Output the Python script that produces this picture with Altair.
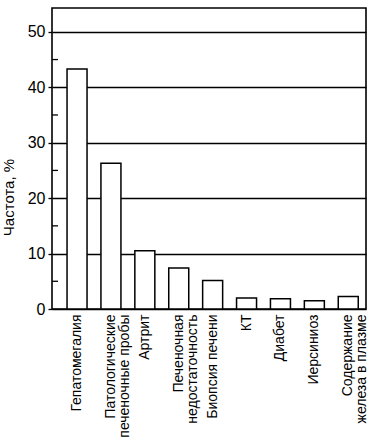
import altair as alt
import pandas as pd

categories = [
    "Гепатомегалия",
    "Патологические|печеночные пробы",
    "Артрит",
    "Печеночная|недостаточность",
    "Биопсия печени",
    "КТ",
    "Диабет",
    "Иерсиниоз",
    "Содержание|железа в плазме",
]
values = [43.3, 26.3, 10.5, 7.4, 5.15, 2.0, 1.85, 1.5, 2.25]
major_ticks = [0, 10, 20, 30, 40, 50]
minor_ticks = [5, 15, 25, 35, 45]

df = pd.DataFrame({"cat": categories, "val": values})
minor_df = pd.DataFrame({"v": minor_ticks})

FONT = "Liberation Sans"
ydom = [0, 54.3]

bars = alt.Chart(df).mark_bar(
    fill="white", stroke="black", strokeWidth=1.5
).encode(
    x=alt.X(
        "cat:N",
        sort=None,
        title=None,
        scale=alt.Scale(paddingInner=0.41, paddingOuter=0.336, align=0.66),
        axis=alt.Axis(
            labelAngle=270,
            labelExpr="split(datum.label, '|')",
            labelFont=FONT,
            labelFontSize=14,
            labelLineHeight=14,
            labelColor="black",
            labelPadding=5,
            labelLimit=200,
            ticks=False,
            domain=False,
            grid=False,
        ),
    ),
    y=alt.Y(
        "val:Q",
        title="Частота, %",
        scale=alt.Scale(domain=ydom, nice=False, zero=True),
        axis=alt.Axis(
            values=major_ticks,
            grid=True,
            gridColor="black",
            gridWidth=1.3,
            gridOpacity=1,
            tickColor="black",
            tickSize=4,
            tickWidth=1.3,
            domain=False,
            labelFont=FONT,
            labelFontSize=16,
            labelColor="black",
            labelPadding=3,
            titleFont=FONT,
            titleFontSize=15,
            titleFontWeight="normal",
            titleColor="black",
            titleAngle=270,
            titleAlign="center",
            titleBaseline="middle",
            titleX=-44,
            titleY=189,
        ),
    ),
)

minor = alt.Chart(minor_df).mark_rule(color="black", strokeWidth=1.3).encode(
    y=alt.Y("v:Q", scale=alt.Scale(domain=ydom, nice=False)),
    x=alt.value(0),
    x2=alt.value(6),
)

chart = alt.layer(bars, minor).properties(
    width=314,
    height=301,
    padding={"left": 52, "top": 8, "right": 11, "bottom": 134},
    autosize=alt.AutoSizeParams(type="none"),
).configure(
    background="white"
).configure_view(
    stroke="black", strokeWidth=1.6
)

chart.save("out.html", embed_options={"renderer": "svg", "actions": False})
